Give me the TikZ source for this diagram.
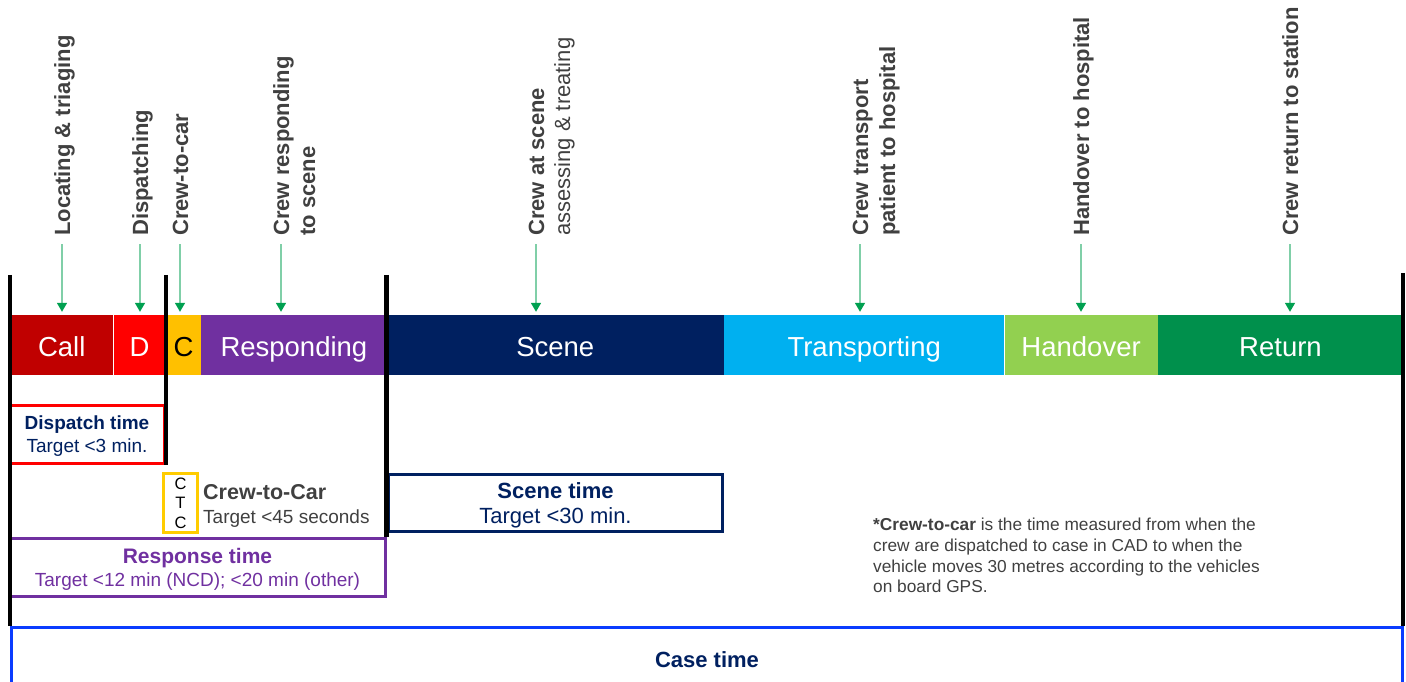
\documentclass[tikz,border=0pt]{standalone}
\usepackage{fontspec}
\setmainfont{Liberation Sans}
\usetikzlibrary{positioning,arrows.meta}
\definecolor{callred}{HTML}{C00000}
\definecolor{dispred}{HTML}{FF0000}
\definecolor{ctcamber}{HTML}{FFC000}
\definecolor{ctcyellow}{HTML}{FFCC00}
\definecolor{resppurple}{HTML}{7030A0}
\definecolor{navy}{HTML}{002060}
\definecolor{transblue}{HTML}{00B0F0}
\definecolor{handgreen}{HTML}{92D050}
\definecolor{retgreen}{HTML}{00904C}
\definecolor{arrowgreen}{HTML}{00A050}
\definecolor{caseblue}{HTML}{0A3CFF}
\definecolor{labgray}{HTML}{404040}
\newcommand{\fs}[2]{\fontsize{#1}{#2}\selectfont}

\begin{document}
\begin{tikzpicture}[x=1pt,y=-1pt,node distance=0pt,
    seg/.style={minimum height=60pt,inner sep=0pt,text height=22pt,text depth=0pt,text=white,font=\fs{27.5}{32}},
    phase/.style={rotate=90,anchor=base west,inner sep=0pt,text=labgray,font=\fs{22}{26}\bfseries},
    pointer/.style={draw=arrowgreen!50,line width=1.5pt,shorten >=3pt,-{Triangle[length=9pt,width=10pt,color=arrowgreen]}},
    bound/.style={line width=4.5pt},
    goal/.style={line width=3pt,align=center,inner sep=0pt,text depth=-2pt}]
    \useasboundingbox (0,0) rectangle (1406,681);

    % timeline bar
    \node [seg,fill=callred,minimum width=103pt,anchor=west] (call) at (10,345) {Call};
    \node [seg,fill=dispred,minimum width=52pt,right=of call] (disp) {D};
    \node [seg,fill=ctcamber,minimum width=35pt,right=of disp,text=black] (ctc) {C};
    \node [seg,fill=resppurple,minimum width=185pt,right=of ctc] (resp) {Responding};
    \node [seg,fill=navy,minimum width=337pt,right=of resp] (scene) {Scene};
    \node [seg,fill=transblue,minimum width=280pt,right=of scene] (trans) {Transporting};
    \node [seg,fill=handgreen,minimum width=153pt,right=of trans] (hand) {Handover};
    \node [seg,fill=retgreen,minimum width=245pt,right=of hand] (ret) {Return};

    % what the crew is doing
    \coordinate (p1) at (62,244);
    \coordinate (p2) at (140,244);
    \coordinate (p3) at (180,244);
    \coordinate (p4) at (281,244);
    \coordinate (p5) at (536,244);
    \coordinate (p6) at (860,244);
    \coordinate (p7) at (1081,244);
    \coordinate (p8) at (1290,244);
    \node [phase] (l1) at ([xshift=8pt,yshift=8pt]p1) {Locating \& triaging};
    \node [phase] (l2) at ([xshift=8pt,yshift=8pt]p2) {Dispatching};
    \node [phase] (l3) at ([xshift=8pt,yshift=8pt]p3) {Crew-to-car};
    \node [phase] (l4) at ([xshift=8pt,yshift=8pt]p4) {Crew responding};
    \node [phase] (l4b) at ([xshift=26pt]l4.base west) {to scene};
    \node [phase] (l5) at ([xshift=8pt,yshift=8pt]p5) {Crew at scene};
    \node [phase,font=\fs{22}{26}] (l5b) at ([xshift=26pt]l5.base west) {assessing \& treating};
    \node [phase] (l6) at ([xshift=8pt,yshift=8pt]p6) {Crew transport};
    \node [phase] (l6b) at ([xshift=27pt]l6.base west) {patient to hospital};
    \node [phase] (l7) at ([xshift=8pt,yshift=8pt]p7) {Handover to hospital};
    \node [phase] (l8) at ([xshift=8pt,yshift=8pt]p8) {Crew return to station};
    \foreach \p in {p1,p2,p3,p4,p5,p6,p7,p8}
      \draw [pointer] (\p) -- (\p |- call.north);

    % targets
    \node [goal,draw=dispred,minimum width=154pt,minimum height=58pt,text=navy,font=\fs{19}{22.5}] (dispbox) at (87,434) {
      {\bfseries Dispatch time}\\Target <3 min.
    };
    \node [goal,draw=ctcyellow,minimum width=34pt,minimum height=59pt,font=\fs{16.5}{19.5}] (ctcbox) at (180.5,503) {
      C\\T\\C
    };
    \node [right=4pt of ctcbox,align=left,inner sep=0pt,text=labgray,font=\fs{19}{24},yshift=-3pt] (ctctext) {
      {\fs{21.5}{24}\bfseries Crew-to-Car}\\Target <45 seconds
    };
    \node [goal,draw=resppurple,minimum width=376pt,minimum height=58pt,text=resppurple,font=\fs{19}{23}] (respbox) at (197.5,567.5) {
      {\fs{21}{23}\bfseries Response time}\\Target <12 min (NCD); <20 min (other)
    };
    \node [goal,draw=navy,minimum width=334pt,minimum height=57pt,text=navy,font=\fs{22}{25}] (scenebox) at (555.5,503) {
      {\bfseries Scene time}\\Target <30 min.
    };
    \node [goal,draw=caseblue,minimum width=1391pt,minimum height=64pt,anchor=north west,text=navy,font=\fs{22}{26}\bfseries] (case) at (10,626) {Case time};

    \node [anchor=north west,align=left,inner sep=0pt,text=labgray,font=\fs{17.3}{20.7}] (note) at (873,518) {
      \textbf{*Crew-to-car} is the time measured from when the\\
      crew are dispatched to case in CAD to when the\\
      vehicle moves 30 metres according to the vehicles\\
      on board GPS.
    };

    % interval bounds
    \draw [bound] ([yshift=40pt]call.north west) -- (call.west |- case.north);
    \draw [bound] ([yshift=40pt]ctc.north west) -- (ctc.west |- dispbox.south);
    \draw [bound] ([yshift=40pt]resp.north east) -- (resp.east |- respbox.north);
    \draw [bound] ([yshift=42pt]ret.north east) -- (ret.east |- case.north);

  \end{tikzpicture}
\end{document}
